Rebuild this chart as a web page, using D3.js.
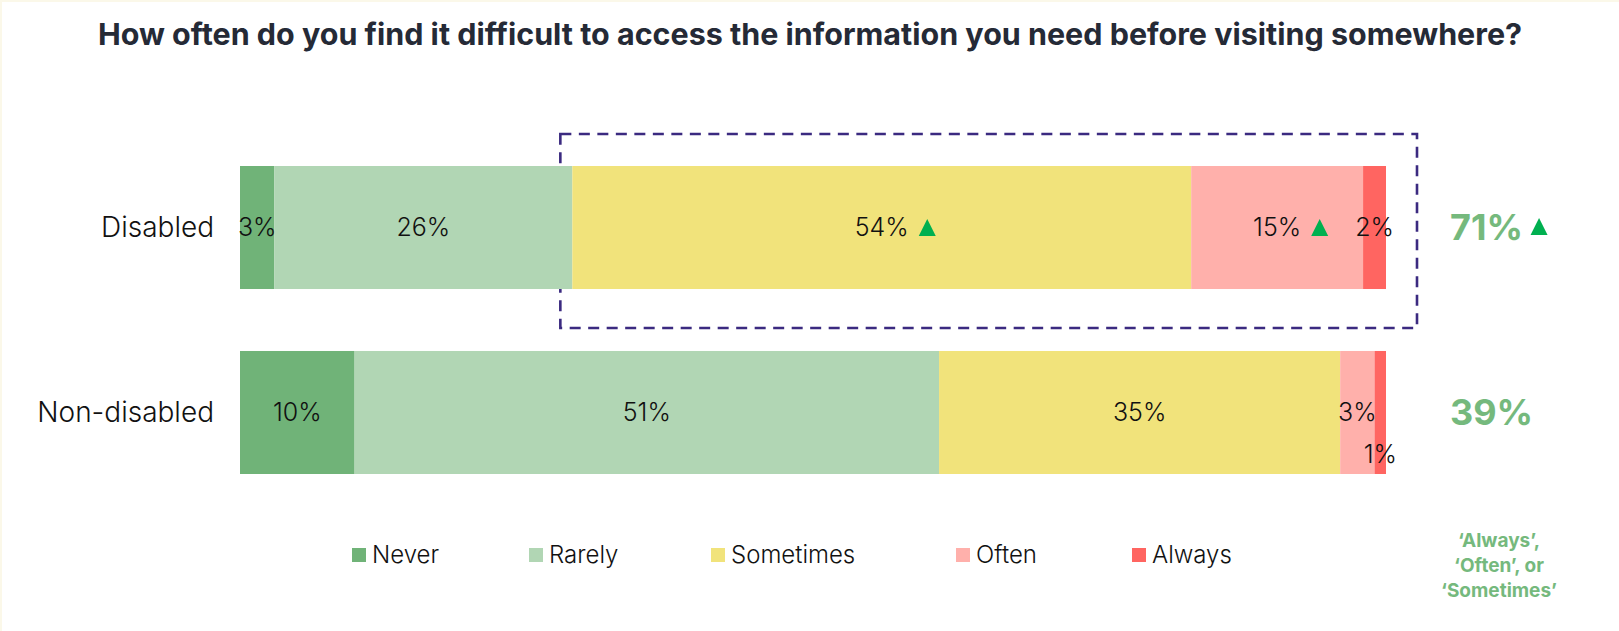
<!DOCTYPE html>
<html>
<head>
<meta charset="utf-8">
<script src="https://cdn.jsdelivr.net/npm/d3@7"></script>
<style>
  html, body { margin: 0; padding: 0; background: #ffffff; }
  svg { display: block; }
  text { font-family: "Inter", "Open Sans", "Noto Sans", sans-serif; }
</style>
</head>
<body>
<svg id="chart" width="1619" height="631"></svg>
<script>
// Survey answers, % of respondents
const categories = ["Disabled", "Non-disabled"];
const responses = ["Never", "Rarely", "Sometimes", "Often", "Always"];
const disabledValues = [3, 26, 54, 15, 2];
const nonDisabledValues = [10, 51, 35, 3, 1];
// significant differences (up-arrow) for the disabled group
const disabledUp = [false, false, true, true, false];
// 'Always' + 'Often' + 'Sometimes'
const combinedTotals = [71, 39];
const combinedUp = [true, false];
const colors = ["#70B378", "#B1D6B4", "#F1E37B", "#FFB0AB", "#FF6561"];

const title = "How often do you find it difficult to access the information you need before visiting somewhere?";
const noteLines = ["\u2018Always\u2019,", "\u2018Often\u2019, or", "\u2018Sometimes\u2019"];

const svg = d3.select("#chart");
const W = 1619, H = 631;

svg.append("rect").attr("width", W).attr("height", H).attr("fill", "#ffffff");
// thin cream frame along top and left edges
svg.append("rect").attr("x", 0).attr("y", 0).attr("width", W).attr("height", 2).attr("fill", "#FBF8E9");
svg.append("rect").attr("x", 0).attr("y", 0).attr("width", 2).attr("height", H).attr("fill", "#FBF8E9");

// Title, fitted to its line width
const titleText = svg.append("text")
  .attr("x", 810).attr("y", 45)
  .attr("text-anchor", "middle")
  .attr("font-weight", 700)
  .attr("font-size", 26)
  .attr("fill", "#252A36")
  .text(title);
const tw = titleText.node().getComputedTextLength();
titleText.attr("font-size", 26 * 1425 / tw);

const x = d3.scaleLinear().domain([0, 100]).range([240, 1386]);
const y = d3.scaleBand().domain(categories).range([166, 474]).paddingInner(0.335);
const color = d3.scaleOrdinal().domain(responses).range(colors);

const rows = [
  { cat: categories[0], values: disabledValues, up: disabledUp },
  { cat: categories[1], values: nonDisabledValues, up: [false, false, false, false, false] }
];

const stack = d3.stack().keys(d3.range(responses.length))
  .value((d, k) => d.values[k]);
const layers = stack(rows);

// Highlight box around the Sometimes/Often/Always part of the disabled bar
const boxStart = d3.sum(disabledValues.slice(0, 2));
svg.append("rect")
  .attr("x", x(boxStart) - 12)
  .attr("y", y(categories[0]) - 32)
  .attr("width", x(100) + 31 - (x(boxStart) - 12))
  .attr("height", y.bandwidth() + 32 + 39)
  .attr("fill", "none")
  .attr("stroke", "#3B2A80")
  .attr("stroke-width", 2.6)
  .attr("stroke-dasharray", "11,7.5");

// Bars
const g = svg.append("g");
layers.forEach((layer, k) => {
  g.selectAll(null).data(layer).enter().append("rect")
    .attr("x", d => x(d[0]))
    .attr("y", d => y(d.data.cat))
    .attr("width", d => x(d[1]) - x(d[0]))
    .attr("height", y.bandwidth())
    .attr("fill", color(responses[k]));
});

// Category labels
svg.selectAll(".cat").data(categories).enter().append("text")
  .attr("x", 214)
  .attr("y", d => y(d) + y.bandwidth() / 2)
  .attr("dy", "0.35em")
  .attr("text-anchor", "end")
  .attr("font-size", 28)
  .attr("font-weight", 300)
  .attr("fill", "#111111")
  .text(d => d);

function upTriangle(sel, cx, cy, size) {
  const h = size, w = size;
  sel.append("path")
    .attr("d", `M${cx - w / 2},${cy + h / 2}L${cx},${cy - h / 2}L${cx + w / 2},${cy + h / 2}Z`)
    .attr("fill", "#00B050");
}

// Segment value labels
layers.forEach((layer, k) => {
  layer.forEach(d => {
    const v = d.data.values[k];
    const cx = (x(d[0]) + x(d[1])) / 2;
    let cy = y(d.data.cat) + y.bandwidth() / 2;
    if (v < 2) cy += 42; // tiny segment: label dropped below its neighbour
    const t = svg.append("text")
      .attr("x", cx).attr("y", cy)
      .attr("dy", "0.35em")
      .attr("text-anchor", "middle")
      .attr("font-size", 25)
      .attr("font-weight", 300)
      .attr("fill", "#111111")
      .text(v + "%");
    if (d.data.up[k]) {
      const w = t.node().getComputedTextLength();
      upTriangle(svg, cx + w / 2 + 18.5, cy, 17);
    }
  });
});

// Combined totals on the right
combinedTotals.forEach((v, i) => {
  const cy = y(categories[i]) + y.bandwidth() / 2;
  const t = svg.append("text")
    .attr("x", 1450).attr("y", cy)
    .attr("dy", "0.35em")
    .attr("font-size", 36)
    .attr("font-weight", 700)
    .attr("fill", "#75B97D")
    .text(v + "%");
  if (combinedUp[i]) {
    const w = t.node().getComputedTextLength();
    upTriangle(svg, 1450 + w + 16, cy - 1, 17);
  }
});

// Legend
const legendX = [352, 529, 711, 956, 1132];
const legend = svg.selectAll(".leg").data(responses).enter().append("g")
  .attr("transform", (d, i) => `translate(${legendX[i]},555)`);
legend.append("rect")
  .attr("x", 0).attr("y", -7)
  .attr("width", 14).attr("height", 14)
  .attr("fill", d => color(d));
legend.append("text")
  .attr("x", 20).attr("y", 0)
  .attr("dy", "0.35em")
  .attr("font-size", 24)
  .attr("font-weight", 300)
  .attr("fill", "#111111")
  .text(d => d);

// Note under the totals
svg.selectAll(".note").data(noteLines).enter().append("text")
  .attr("x", 1499)
  .attr("y", (d, i) => 547 + i * 25)
  .attr("text-anchor", "middle")
  .attr("font-size", 19)
  .attr("font-weight", 700)
  .attr("fill", "#75B97D")
  .text(d => d);
</script>
</body>
</html>
